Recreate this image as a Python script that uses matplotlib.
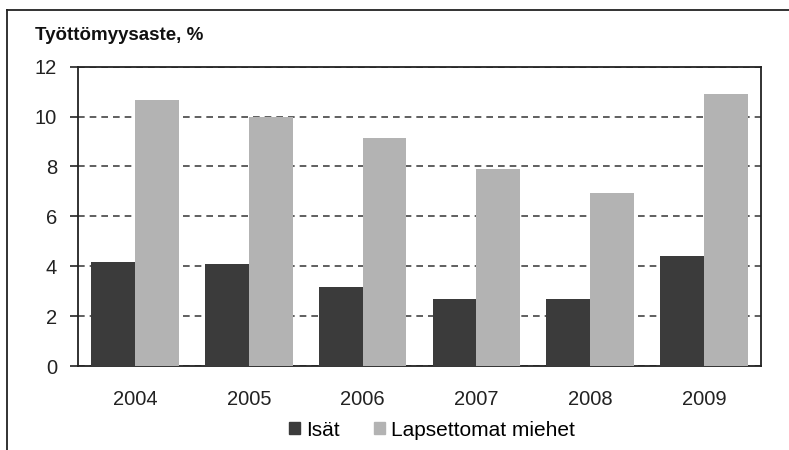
import matplotlib.pyplot as plt
import numpy as np
from matplotlib.patches import Patch
from matplotlib.lines import Line2D

years = ['2004', '2005', '2006', '2007', '2008', '2009']
isat = [4.15, 4.1, 3.15, 2.7, 2.7, 4.4]
lapsettomat = [10.65, 9.97, 9.13, 7.9, 6.95, 10.9]
names = ['Isät', 'Lapsettomat miehet']

dark = '#3b3b3b'
light = '#b3b3b3'

plt.rcParams['font.family'] = ['Liberation Sans', 'DejaVu Sans']

fig = plt.figure(figsize=(7.89, 4.5), dpi=100)
ax = fig.add_axes([78 / 789, 1 - 366 / 450, (761 - 78) / 789, (366 - 66.7) / 450])

x = np.arange(len(years))
w = 0.385
ax.bar(x - w / 2, isat, width=w, color=dark, zorder=3)
ax.bar(x + w / 2, lapsettomat, width=w, color=light, zorder=3)

ax.set_xlim(-0.5, len(years) - 0.5)
ax.set_ylim(0, 12)
ax.set_yticks(range(0, 13, 2))
ax.set_xticks(x)
ax.set_xticklabels(years)
ax.yaxis.grid(True, linestyle=(0, (4, 3)), color='#444444', lw=1.2, zorder=1)
ax.tick_params(axis='x', length=0, pad=17, labelsize=14.5, colors='#222222')
ax.tick_params(axis='y', length=6, width=1.2, pad=9, labelsize=14.5, colors='#222222')
for s in ax.spines.values():
    s.set_color('#222222')
    s.set_linewidth(1.3)

fig.text(35 / 789, 1 - 35 / 450, 'Työttömyysaste, %', fontsize=13.5,
         fontweight='bold', va='center', ha='left', color='#111111')

handles = [Patch(color=dark), Patch(color=light)]
fig.legend(handles, names, loc='center', ncol=2,
           bbox_to_anchor=(432 / 789, 1 - 430 / 450), frameon=False,
           fontsize=15, handlelength=0.55, handleheight=0.55,
           handletextpad=0.3, columnspacing=1.6)

# outer frame of the picture
fig.add_artist(Line2D([7 / 789, 1], [1 - 10 / 450, 1 - 10 / 450], color='#222222', lw=1.3))
fig.add_artist(Line2D([7 / 789, 7 / 789], [0, 1 - 10 / 450], color='#222222', lw=1.3))

fig.savefig('out.png', dpi=100)
